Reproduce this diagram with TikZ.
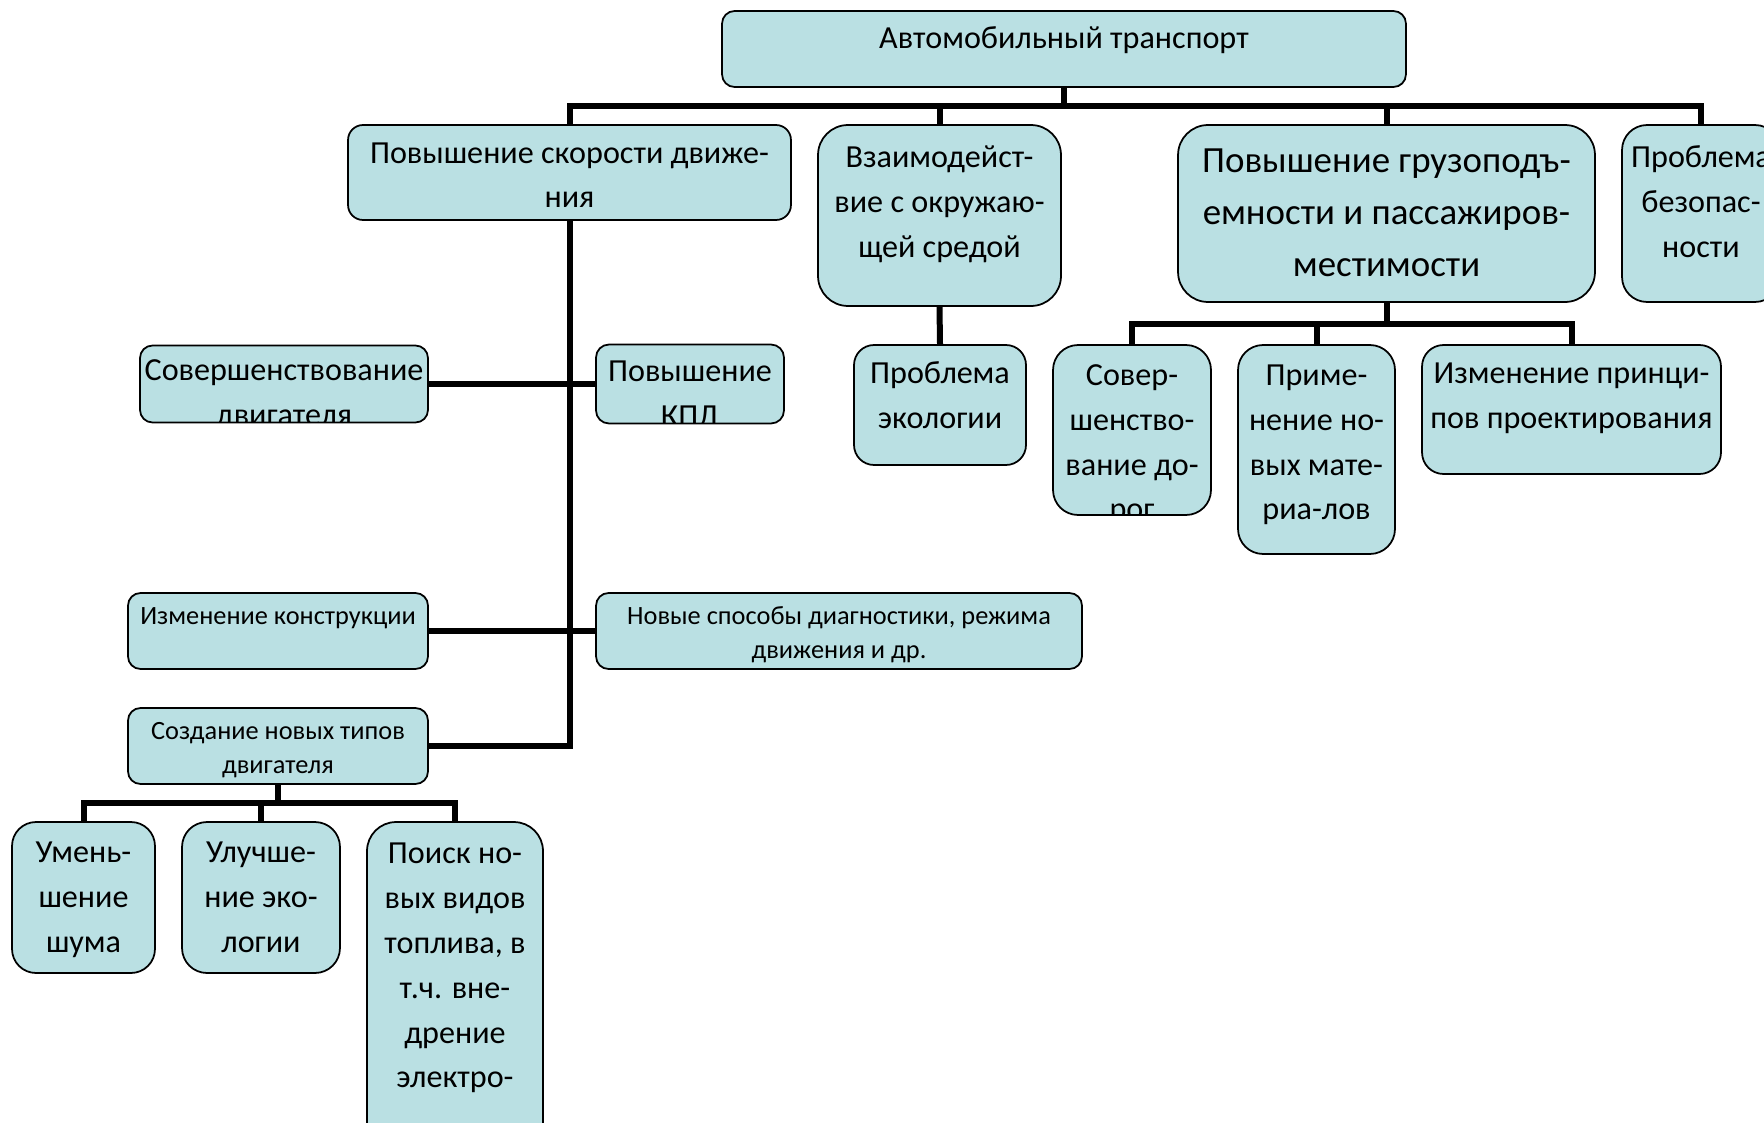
\documentclass[tikz,border=0pt]{standalone}
\usepackage{fontspec}
\setmainfont{Carlito}
\definecolor{boxfill}{HTML}{BAE0E3}
\begin{document}
\begin{tikzpicture}[x=0.02cm, y=-0.02cm,
  blk/.style={draw, line width=1pt, fill=boxfill, inner sep=0pt},
  conn/.style={line width=0.12cm},
  mid/.style={font=\fontsize{18.3}{25.6}\selectfont},
  big/.style={font=\fontsize{21}{29.6}\selectfont},
  small/.style={font=\fontsize{15}{19.3}\selectfont},
  txt/.style n args={3}{path picture={\node[#2, anchor=base, align=center, inner sep=0pt, draw=none, fill=none, minimum width=0pt, minimum height=0pt] at ([yshift=-#1]path picture bounding box.north) {#3};}}]
\useasboundingbox (0,0) rectangle (1764,1122);
\node[blk, rounded corners=0.25cm, minimum width=13.68cm, minimum height=1.52cm, txt={0.74cm}{mid}{Автомобильный транспорт}] (auto) at (1064,49) {};
\node[blk, rounded corners=0.3cm, minimum width=8.86cm, minimum height=1.9cm, txt={1.66cm}{mid}{Повышение скорости движе-\\ния}] (speed) at (569.5,172.5) {};
\node[blk, rounded corners=0.6cm, minimum width=4.86cm, minimum height=3.62cm, txt={2.65cm}{mid}{Взаимодейст-\\вие с окружаю-\\щей средой}] (envir) at (939.5,215.5) {};
\node[blk, rounded corners=0.6cm, minimum width=8.34cm, minimum height=3.54cm, txt={3.04cm}{big}{Повышение грузоподъ-\\емности и пассажиров-\\местимости}] (cargo) at (1386.5,213.5) {};
\node[blk, rounded corners=0.5cm, minimum width=3.16cm, minimum height=3.54cm, txt={2.65cm}{mid}{Проблема\\безопас-\\ности}] (safety) at (1701,213.5) {};
\node[blk, rounded corners=0.25cm, minimum width=5.76cm, minimum height=1.54cm, txt={1.6cm}{mid}{Совершенствование\\двигателя}] (engine) at (284,384) {};
\node[blk, rounded corners=0.26cm, minimum width=3.76cm, minimum height=1.58cm, txt={1.64cm}{mid}{Повышение\\КПД}] (kpd) at (690,384) {};
\node[blk, rounded corners=0.25cm, minimum width=6cm, minimum height=1.52cm, txt={0.62cm}{small}{Изменение конструкции}] (constr) at (278,631) {};
\node[blk, rounded corners=0.25cm, minimum width=9.72cm, minimum height=1.52cm, txt={1.3cm}{small}{Новые способы диагностики, режима\\движения и др.}] (diagn) at (839,631) {};
\node[blk, rounded corners=0.25cm, minimum width=6cm, minimum height=1.52cm, txt={1.3cm}{small}{Создание новых типов\\двигателя}] (newtype) at (278,746) {};
\node[blk, rounded corners=0.48cm, minimum width=2.86cm, minimum height=3.02cm, txt={2.6cm}{mid}{Умень-\\шение\\шума}] (noise) at (83.5,897.5) {};
\node[blk, rounded corners=0.5cm, minimum width=3.16cm, minimum height=3.02cm, txt={2.6cm}{mid}{Улучше-\\ние эко-\\логии}] (ecolog) at (261,897.5) {};
\node[blk, rounded corners=0.58cm, minimum width=3.52cm, minimum height=6.6cm, txt={5.32cm}{mid}{Поиск но-\\вых видов\\топлива, в\\т.ч. вне-\\дрение\\электро-}] (fuel) at (455,987) {};
\node[blk, rounded corners=0.4cm, minimum width=3.44cm, minimum height=2.4cm, txt={1.66cm}{mid}{Проблема\\экологии}] (ecol) at (940,405) {};
\node[blk, rounded corners=0.5cm, minimum width=3.16cm, minimum height=3.4cm, txt={3.5cm}{mid}{Совер-\\шенство-\\вание до-\\рог}] (roads) at (1132,430) {};
\node[blk, rounded corners=0.5cm, minimum width=3.14cm, minimum height=4.18cm, txt={3.5cm}{mid}{Приме-\\нение но-\\вых мате-\\риа-лов}] (mater) at (1316.5,449.5) {};
\node[blk, rounded corners=0.43cm, minimum width=5.98cm, minimum height=2.58cm, txt={1.66cm}{mid}{Изменение принци-\\пов проектирования}] (design) at (1571.5,409.5) {};
\coordinate (bus) at (1064,106);
\coordinate (nbus) at (278,803);
\coordinate (cbus) at (1386.5,324);
\draw[conn] (auto.south) -- (bus);
\draw[conn] (speed.north) |- (bus) -| (safety.north);
\draw[conn] (envir.north) -- (envir.north |- bus);
\draw[conn] (cargo.north) -- (cargo.north |- bus);
\draw[conn] (speed.south) |- (newtype.east);
\draw[conn] (engine.east) -- (kpd.west);
\draw[conn] (constr.east) -- (diagn.west);
\draw[conn] (newtype.south) -- (nbus);
\draw[conn] (noise.north) |- (nbus) -| (fuel.north);
\draw[conn] (ecolog.north) -- (ecolog.north |- nbus);
\draw[conn] (envir.south) -- (ecol.north);
\draw[conn] (cargo.south) -- (cbus);
\draw[conn] (roads.north) |- (cbus) -| (design.north);
\draw[conn] (mater.north) -- (mater.north |- cbus);
\end{tikzpicture}
\end{document}
